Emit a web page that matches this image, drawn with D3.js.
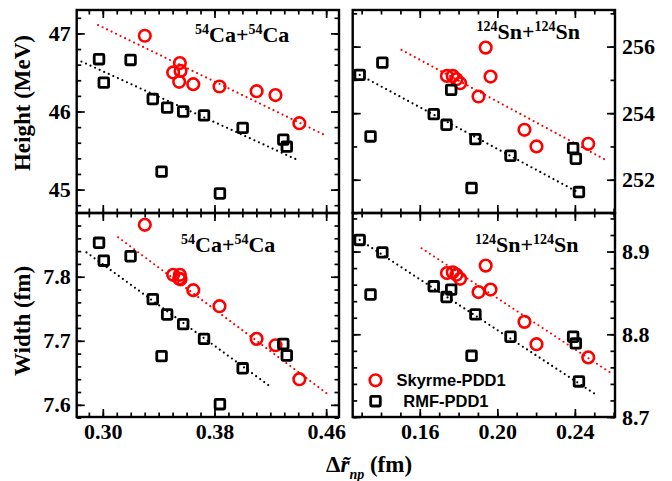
<!DOCTYPE html>
<html>
<head>
<meta charset="utf-8">
<script src="https://cdn.jsdelivr.net/npm/d3@7"></script>
<style>
body { margin: 0; background: white; }
svg text { font-family: "Liberation Serif", "Times New Roman", serif; font-weight: bold; fill: black; }
.tick text { font-size: 22px; }
.legend text { font-family: "Liberation Sans", Arial, sans-serif; font-weight: bold; font-size: 16.5px; }
</style>
</head>
<body>
<div id="chart"></div>
<script>
// 54Ca+54Ca, Skyrme-PDD1
var caSkyrmeDr     = [0.3301, 0.3504, 0.3547, 0.3552, 0.3557, 0.3648, 0.3836, 0.4102, 0.4237, 0.4408];
var caSkyrmeHeight = [46.97, 46.50, 46.38, 46.62, 46.52, 46.35, 46.32, 46.26, 46.21, 45.85];
var caSkyrmeWidth  = [7.881, 7.803, 7.797, 7.803, 7.796, 7.779, 7.754, 7.703, 7.693, 7.640];
// 54Ca+54Ca, RMF-PDD1
var caRmfDr     = [0.2973, 0.3007, 0.3199, 0.3358, 0.3421, 0.3461, 0.3576, 0.3725, 0.3839, 0.4002, 0.4293, 0.4318];
var caRmfHeight = [46.67, 46.37, 46.66, 46.16, 45.23, 46.05, 46.00, 45.95, 44.95, 45.79, 45.64, 45.55];
var caRmfWidth  = [7.853, 7.825, 7.832, 7.765, 7.676, 7.741, 7.726, 7.703, 7.601, 7.657, 7.695, 7.677];
// 124Sn+124Sn, Skyrme-PDD1
var snSkyrmeDr     = [0.1740, 0.1770, 0.1789, 0.1808, 0.1903, 0.1940, 0.1965, 0.2140, 0.2202, 0.2469];
var snSkyrmeHeight = [255.12, 255.12, 255.02, 254.90, 254.50, 255.97, 255.10, 253.50, 253.00, 253.08];
var snSkyrmeWidth  = [8.874, 8.875, 8.872, 8.867, 8.851, 8.883, 8.854, 8.815, 8.788, 8.772];
// 124Sn+124Sn, RMF-PDD1
var snRmfDr     = [0.1290, 0.1346, 0.1407, 0.1672, 0.1738, 0.1762, 0.1867, 0.1887, 0.2068, 0.2391, 0.2405, 0.2421];
var snRmfHeight = [255.15, 253.30, 255.52, 253.97, 253.65, 254.70, 251.75, 253.22, 252.72, 252.95, 252.63, 251.63];
var snRmfWidth  = [8.914, 8.848, 8.899, 8.858, 8.845, 8.854, 8.774, 8.824, 8.797, 8.797, 8.789, 8.743];

// dotted linear fits, [dr, value] end points
var caSkyrmeHeightFit = [[0.2966, 47.107], [0.4600, 45.69]];
var caRmfHeightFit    = [[0.2847, 46.64], [0.4394, 45.38]];
var snSkyrmeHeightFit = [[0.1506, 255.90], [0.2551, 252.62]];
var snRmfHeightFit    = [[0.1290, 255.15], [0.2417, 251.62]];
var caSkyrmeWidthFit  = [[0.3110, 7.8616], [0.4605, 7.6178]];
var caRmfWidthFit     = [[0.2883, 7.838], [0.4210, 7.627]];
var snSkyrmeWidthFit  = [[0.1609, 8.904], [0.2581, 8.754]];
var snRmfWidthFit     = [[0.1290, 8.914], [0.2503, 8.728]];

// tick labels
var caDrTicks = [0.30, 0.38, 0.46];
var snDrTicks = [0.16, 0.20, 0.24];
var caHeightTicks = [45, 46, 47];
var snHeightTicks = [252, 254, 256];
var caWidthTicks = [7.6, 7.7, 7.8];
var snWidthTicks = [8.7, 8.8, 8.9];

var svg = d3.select("#chart").append("svg")
  .attr("width", 672)
  .attr("height", 481);

var xCa = d3.scaleLinear().domain([0.2813, 0.4692]).range([76.7, 339]);
var xSn = d3.scaleLinear().domain([0.1254, 0.2607]).range([352.7, 615]);
var yCaH = d3.scaleLinear().domain([44.70, 47.30]).range([213, 10]);
var ySnH = d3.scaleLinear().domain([251.0, 257.1]).range([213, 10]);
var yCaW = d3.scaleLinear().domain([7.581, 7.8995]).range([417, 213]);
var ySnW = d3.scaleLinear().domain([8.70, 8.9466]).range([417, 213]);

function steps(a, b, s) {
  return d3.range(Math.round(a / s), Math.round(b / s) + 1).map(function(i) { return +(i * s).toFixed(4); });
}

function panel(x, y, xMinor, xMajor, yMinor, yMajor, xFmt, yFmt, ySide) {
  var g = svg.append("g");
  var xr = x.range(), yr = y.range();
  var sides = [
    [d3.axisBottom(x), "translate(0," + yr[0] + ")", xMinor, xMajor, xFmt, 6],
    [d3.axisTop(x), "translate(0," + yr[1] + ")", xMinor, xMajor, null, 0],
    [d3.axisLeft(y), "translate(" + xr[0] + ",0)", yMinor, yMajor, ySide == "left" ? yFmt : null, 6],
    [d3.axisRight(y), "translate(" + xr[1] + ",0)", yMinor, yMajor, ySide == "right" ? yFmt : null, 7]
  ];
  sides.forEach(function(s) {
    g.append("g").attr("transform", s[1])
      .call(s[0].tickValues(s[2]).tickSize(-4.5).tickFormat(""));
    var a = s[0].tickValues(s[3]).tickSize(-8).tickPadding(s[5]);
    a.tickFormat(s[4] ? d3.format(s[4]) : "");
    g.append("g").attr("transform", s[1]).call(a);
  });
  g.selectAll(".domain").remove();
  g.selectAll(".tick line").attr("stroke", "black").attr("stroke-width", 1.7);
  g.append("rect")
    .attr("x", xr[0]).attr("y", yr[1])
    .attr("width", xr[1] - xr[0]).attr("height", yr[0] - yr[1])
    .attr("fill", "none").attr("stroke", "black").attr("stroke-width", 2.4);
}

panel(xCa, yCaH, steps(0.29, 0.46, 0.01), caDrTicks, steps(44.8, 47.2, 0.2), caHeightTicks, null, "d", "left");
panel(xSn, ySnH, steps(0.13, 0.26, 0.01), snDrTicks, steps(251, 257, 1), snHeightTicks, null, "d", "right");
panel(xCa, yCaW, steps(0.29, 0.46, 0.01), caDrTicks, steps(7.58, 7.88, 0.02), caWidthTicks, ".2f", ".1f", "left");
panel(xSn, ySnW, steps(0.13, 0.26, 0.01), snDrTicks, steps(8.70, 8.94, 0.02), snWidthTicks, ".2f", ".1f", "right");

function fit(pts, x, y, color) {
  svg.append("path")
    .attr("d", d3.line().x(function(d) { return x(d[0]); }).y(function(d) { return y(d[1]); })(pts))
    .attr("fill", "none")
    .attr("stroke", color)
    .attr("stroke-width", 2.2)
    .attr("stroke-linecap", "round")
    .attr("stroke-dasharray", "0,5");
}

fit(caRmfHeightFit, xCa, yCaH, "black");
fit(caSkyrmeHeightFit, xCa, yCaH, "#ff0000");
fit(snRmfHeightFit, xSn, ySnH, "black");
fit(snSkyrmeHeightFit, xSn, ySnH, "#ff0000");
fit(caRmfWidthFit, xCa, yCaW, "black");
fit(caSkyrmeWidthFit, xCa, yCaW, "#ff0000");
fit(snRmfWidthFit, xSn, ySnW, "black");
fit(snSkyrmeWidthFit, xSn, ySnW, "#ff0000");

function squares(dr, v, x, y) {
  svg.append("g").selectAll("rect")
    .data(d3.zip(dr, v))
    .enter().append("rect")
    .attr("x", function(d) { return x(d[0]) - 4.8; })
    .attr("y", function(d) { return y(d[1]) - 4.8; })
    .attr("width", 9.6)
    .attr("height", 9.6)
    .attr("rx", 1)
    .attr("fill", "none")
    .attr("stroke", "black")
    .attr("stroke-width", 2.8);
}

function circles(dr, v, x, y) {
  svg.append("g").selectAll("circle")
    .data(d3.zip(dr, v))
    .enter().append("circle")
    .attr("cx", function(d) { return x(d[0]); })
    .attr("cy", function(d) { return y(d[1]); })
    .attr("r", 5.8)
    .attr("fill", "none")
    .attr("stroke", "#ff0000")
    .attr("stroke-width", 2.6);
}

circles(caSkyrmeDr, caSkyrmeHeight, xCa, yCaH);
squares(caRmfDr, caRmfHeight, xCa, yCaH);
circles(snSkyrmeDr, snSkyrmeHeight, xSn, ySnH);
squares(snRmfDr, snRmfHeight, xSn, ySnH);
circles(caSkyrmeDr, caSkyrmeWidth, xCa, yCaW);
squares(caRmfDr, caRmfWidth, xCa, yCaW);
circles(snSkyrmeDr, snSkyrmeWidth, xSn, ySnW);
squares(snRmfDr, snRmfWidth, xSn, ySnW);

// reaction labels
function reaction(x, y, a, el) {
  var t = svg.append("text").attr("x", x).attr("y", y).style("font-size", "22px");
  t.append("tspan").text(a).style("font-size", "14px").attr("dy", -8);
  t.append("tspan").text(el + "+").attr("dy", 8);
  t.append("tspan").text(a).style("font-size", "14px").attr("dy", -8);
  t.append("tspan").text(el).attr("dy", 8);
}
reaction(195, 41.5, "54", "Ca");
reaction(181, 251.5, "54", "Ca");
reaction(476.5, 38.5, "124", "Sn");
reaction(475, 251.5, "124", "Sn");

// axis titles
svg.append("text")
  .attr("transform", "translate(30,103) rotate(-90)")
  .attr("text-anchor", "middle")
  .style("font-size", "23px")
  .text("Height (MeV)");

svg.append("text")
  .attr("transform", "translate(30,321) rotate(-90)")
  .attr("text-anchor", "middle")
  .style("font-size", "23px")
  .text("Width (fm)");

var xt = svg.append("text")
  .attr("x", 326)
  .attr("y", 472)
  .style("font-size", "23px");
xt.append("tspan").text("\u0394");
xt.append("tspan").text("r\u0303").style("font-style", "italic");
xt.append("tspan").text("np").style("font-style", "italic").style("font-size", "14px").attr("dy", 7);
xt.append("tspan").text(" (fm)").attr("dy", -7);

// legend
var legend = svg.append("g").attr("class", "legend");
legend.append("circle")
  .attr("cx", 375.5).attr("cy", 380.3).attr("r", 5.8)
  .attr("fill", "none").attr("stroke", "#ff0000").attr("stroke-width", 2.6);
legend.append("text").attr("x", 396.5).attr("y", 385.7).text("Skyrme-PDD1");
legend.append("rect")
  .attr("x", 370.7).attr("y", 396.4).attr("width", 9.6).attr("height", 9.6).attr("rx", 1)
  .attr("fill", "none").attr("stroke", "black").attr("stroke-width", 2.8);
legend.append("text").attr("x", 403.3).attr("y", 406.7).text("RMF-PDD1");
</script>
</body>
</html>
